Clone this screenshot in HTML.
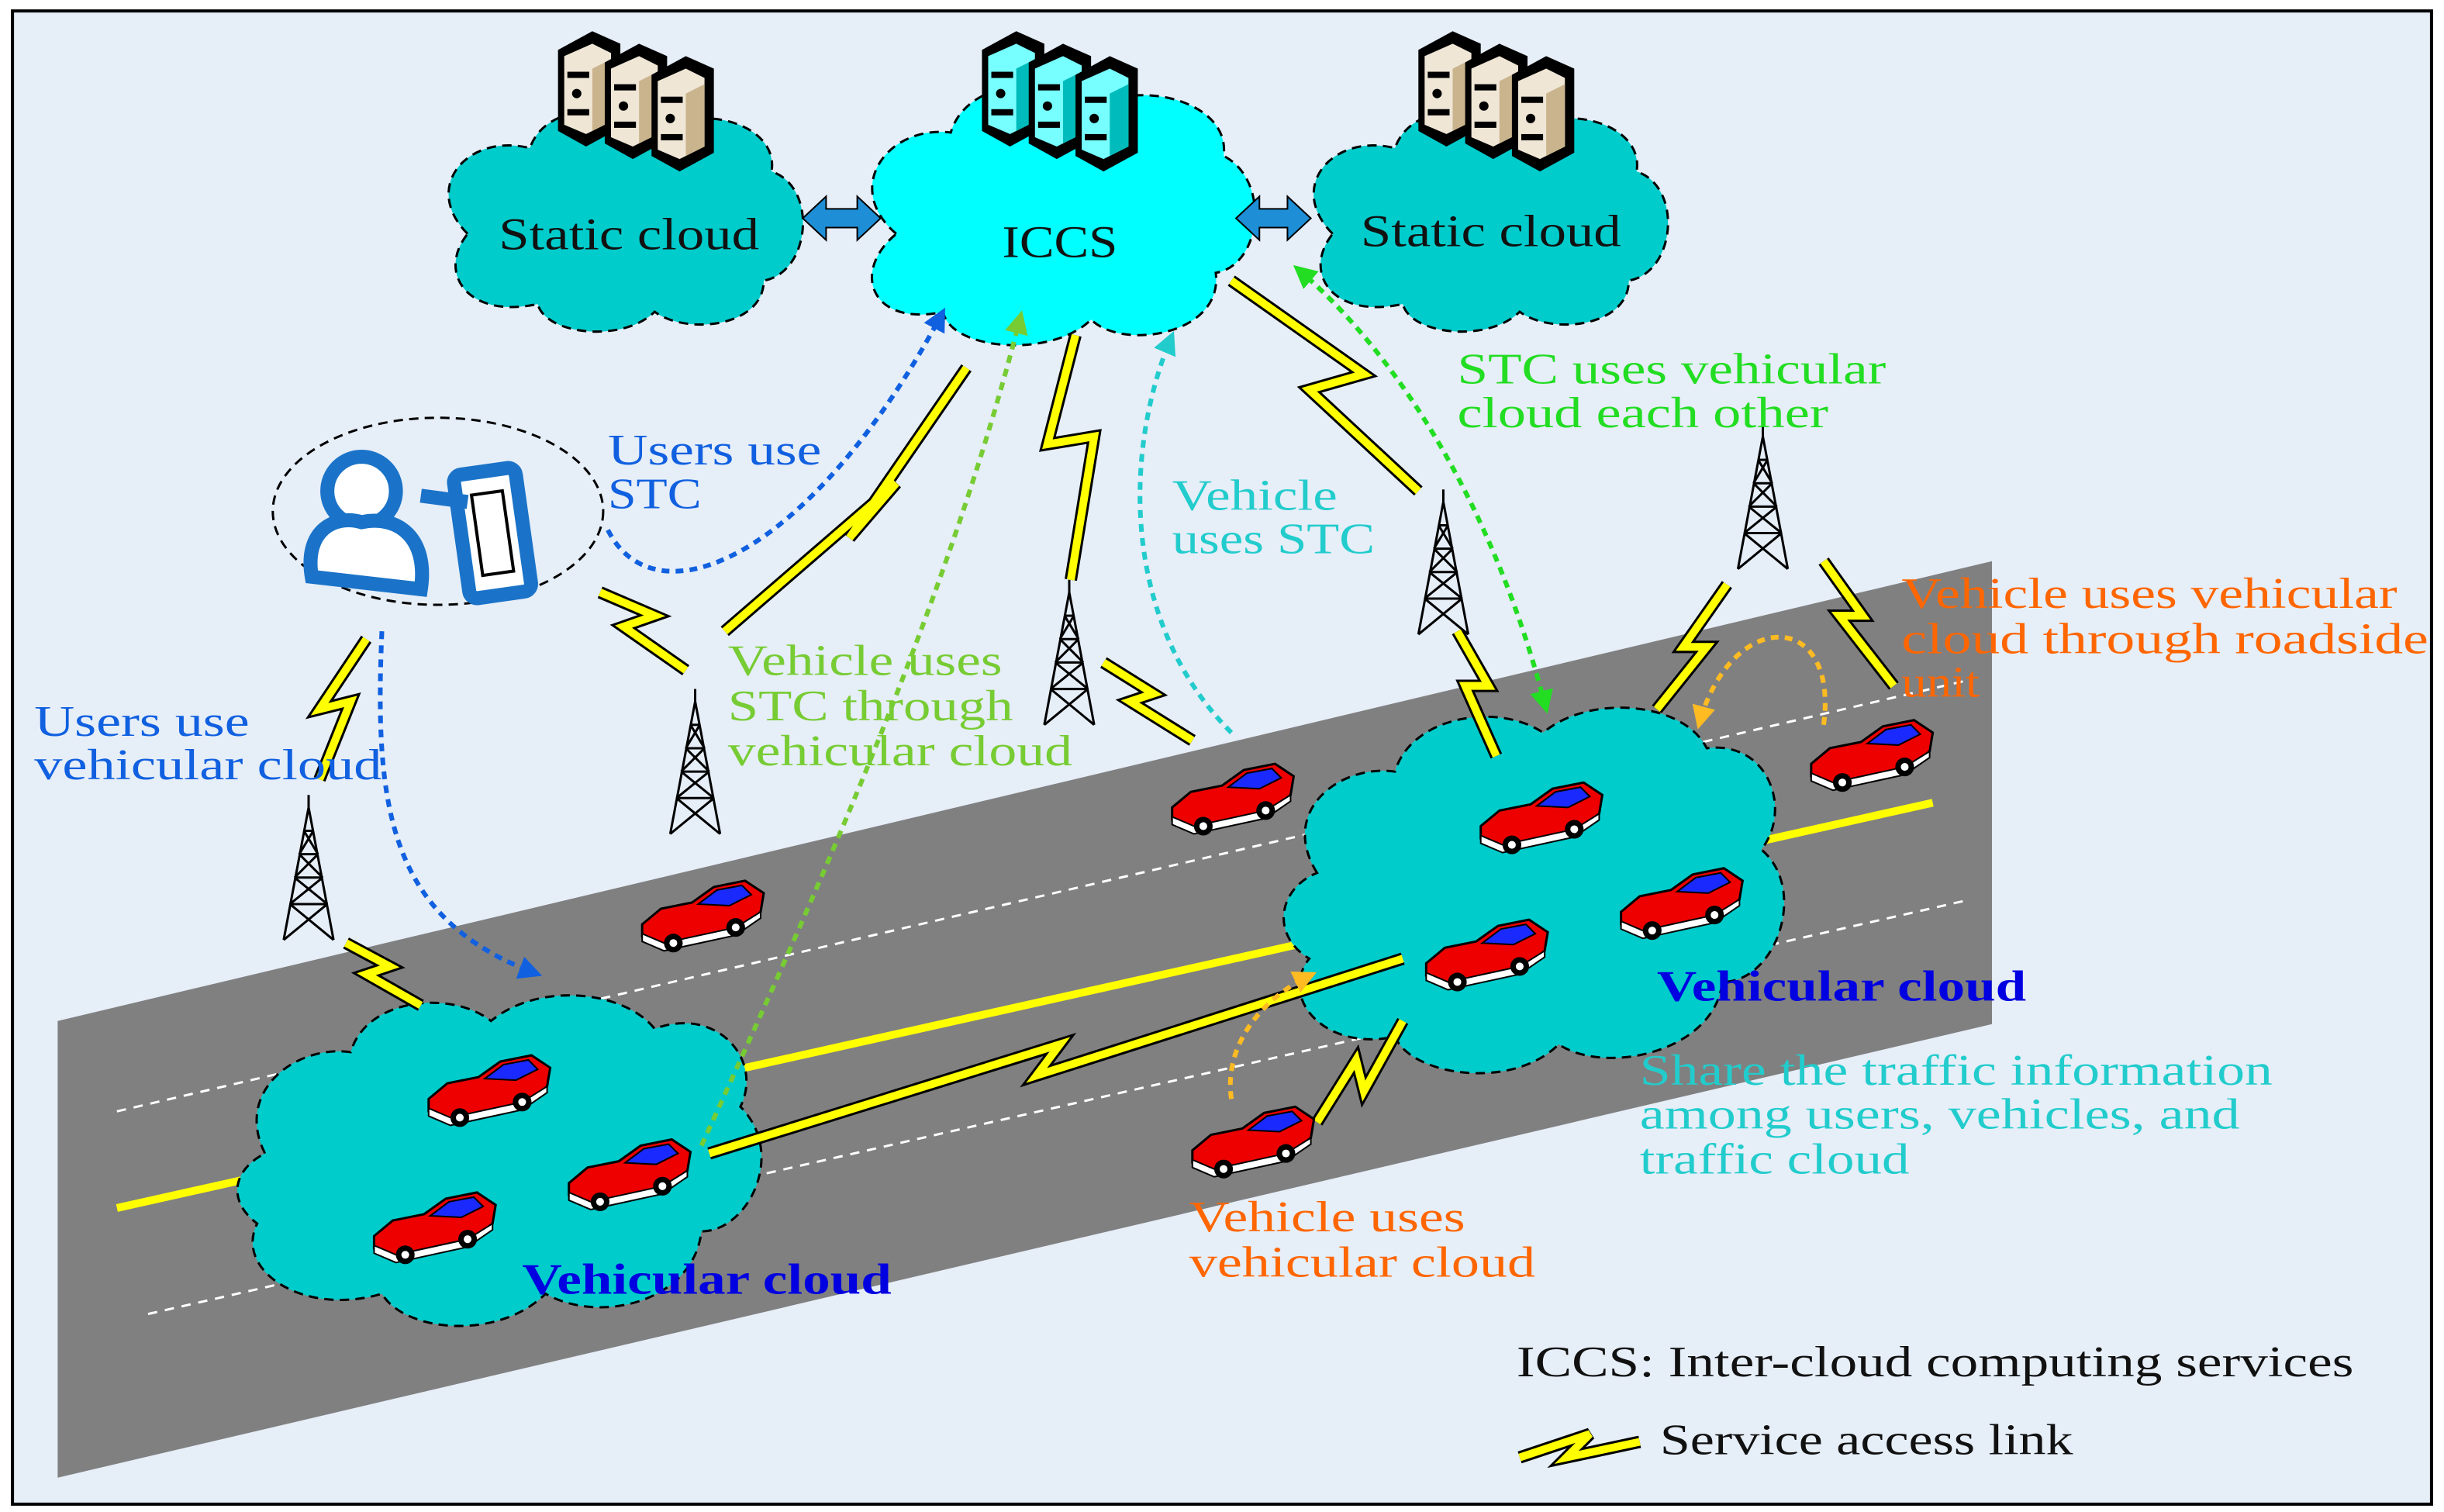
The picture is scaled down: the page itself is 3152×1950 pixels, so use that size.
<!DOCTYPE html>
<html><head><meta charset="utf-8"><style>
html,body{margin:0;padding:0;background:#fff;}
svg{display:block;}
text{font-family:"Liberation Serif",serif;}
</style></head><body>
<svg width="3152" height="1950" viewBox="0 0 1568 970" xmlns="http://www.w3.org/2000/svg">
<defs>
<g id="car">
 <polygon points="0,28 12,18 32,14 46,4 66,0 78,8 76,20 60,32 14,42 0,36" fill="#e00" stroke="#000" stroke-width="1.5"/>
 <polygon points="36,15 48,6 64,3 70,9 56,16" fill="#1a2aff" stroke="#000" stroke-width="1"/>
 <polygon points="0,34 14,40 60,30 76,20 76,24 60,35 14,45 0,39" fill="#fff" stroke="#000" stroke-width="1"/>
 <circle cx="20" cy="40" r="6" fill="#000"/><circle cx="20" cy="40" r="2.5" fill="#fff"/>
 <circle cx="60" cy="30" r="6" fill="#000"/><circle cx="60" cy="30" r="2.5" fill="#fff"/>
</g>
<g id="tower" stroke="#000" stroke-width="1.5" fill="none">
 <line x1="0" y1="0" x2="0" y2="-8"/>
 <line x1="0" y1="0" x2="-16" y2="85"/><line x1="0" y1="0" x2="16" y2="85"/>
 <line x1="-3" y1="15" x2="3" y2="15"/><line x1="-6" y1="30" x2="6" y2="30"/><line x1="-9" y1="45" x2="9" y2="45"/><line x1="-12" y1="62" x2="12" y2="62"/>
 <line x1="-3" y1="15" x2="6" y2="30"/><line x1="3" y1="15" x2="-6" y2="30"/><line x1="-6" y1="30" x2="9" y2="45"/><line x1="6" y1="30" x2="-9" y2="45"/><line x1="-9" y1="45" x2="12" y2="62"/><line x1="9" y1="45" x2="-12" y2="62"/><line x1="-12" y1="62" x2="16" y2="85"/><line x1="12" y1="62" x2="-16" y2="85"/>
</g>
<g id="server">
 <polygon points="0,12 22,0 40,8 40,62 18,74 0,64" fill="#000"/>
 <polygon points="4,16 22,8 34,14 34,58 18,66 4,60" fill="#efe6d6"/>
 <polygon points="22,24 34,18 34,58 22,64" fill="#c9b48d"/>
 <rect x="6" y="26" width="14" height="4" fill="#000"/><rect x="6" y="50" width="14" height="4" fill="#000"/><circle cx="12" cy="40" r="3" fill="#000"/>
</g>
<g id="serverc">
 <polygon points="0,12 22,0 40,8 40,62 18,74 0,64" fill="#000"/>
 <polygon points="4,16 22,8 34,14 34,58 18,66 4,60" fill="#7ff"/>
 <polygon points="22,24 34,18 34,58 22,64" fill="#0bb"/>
 <rect x="6" y="26" width="14" height="4" fill="#000"/><rect x="6" y="50" width="14" height="4" fill="#000"/><circle cx="12" cy="40" r="3" fill="#000"/>
</g>
<marker id="ab" viewBox="0 0 10 10" refX="8" refY="5" markerWidth="5" markerHeight="5" orient="auto-start-reverse"><path d="M0,0L10,5L0,10z" fill="#1060e0"/></marker>
<marker id="ag" viewBox="0 0 10 10" refX="8" refY="5" markerWidth="5" markerHeight="5" orient="auto-start-reverse"><path d="M0,0L10,5L0,10z" fill="#7c3"/></marker>
<marker id="ac" viewBox="0 0 10 10" refX="8" refY="5" markerWidth="5" markerHeight="5" orient="auto-start-reverse"><path d="M0,0L10,5L0,10z" fill="#2cc"/></marker>
<marker id="agr" viewBox="0 0 10 10" refX="8" refY="5" markerWidth="5" markerHeight="5" orient="auto-start-reverse"><path d="M0,0L10,5L0,10z" fill="#2d2"/></marker>
<marker id="ao" viewBox="0 0 10 10" refX="8" refY="5" markerWidth="5" markerHeight="5" orient="auto-start-reverse"><path d="M0,0L10,5L0,10z" fill="#fb2"/></marker>
</defs>
<rect x="0" y="0" width="1568" height="970" fill="#fff"/>
<rect x="8" y="7" width="1552" height="958" fill="#e6eef8" stroke="#000" stroke-width="2"/>

<polygon points="37,655 1278,360 1278,657 37,948" fill="#808080"/>
<line x1="75" y1="713" x2="1260" y2="437" stroke="#fff" stroke-width="1.5" stroke-dasharray="6,5"/>
<line x1="95" y1="843" x2="1260" y2="578" stroke="#fff" stroke-width="1.5" stroke-dasharray="6,5"/>
<line x1="75" y1="775" x2="1240" y2="515" stroke="#ff0" stroke-width="5"/>

<g fill="#00cccc" stroke="#000" stroke-width="1.5" stroke-dasharray="6,4">
 <path d="M300,150 C270,120 300,85 340,95 C350,65 400,65 420,85 C450,65 500,80 495,110 C525,120 520,175 490,180 C490,210 440,215 420,200 C400,220 350,215 345,195 C300,205 280,175 300,150Z"/>
 <path d="M855,150 C825,120 855,85 895,95 C905,65 955,65 975,85 C1005,65 1055,80 1050,110 C1080,120 1075,175 1045,180 C1045,210 995,215 975,200 C955,220 905,215 900,195 C855,205 835,175 855,150Z"/>
 <path d="M170,740 C150,700 190,670 225,675 C235,640 290,635 315,655 C345,630 400,635 420,660 C460,645 490,680 475,710 C505,740 480,790 450,790 C445,835 385,850 350,830 C320,860 260,855 245,830 C195,845 150,815 165,785 C145,770 150,750 170,740Z"/>
 <path d="M845,560 C820,520 860,490 895,495 C905,460 960,450 990,470 C1020,445 1080,450 1095,480 C1135,475 1150,520 1130,545 C1160,570 1140,630 1105,630 C1100,675 1030,690 1000,670 C970,700 905,690 895,665 C850,675 820,640 840,615 C815,600 820,570 845,560Z"/>
</g>
<path d="M575,150 C540,120 570,80 610,85 C620,50 680,45 700,70 C730,50 790,65 785,100 C815,115 810,170 780,175 C785,215 720,225 700,205 C675,230 610,225 605,200 C560,210 545,175 575,150Z" fill="#00ffff" stroke="#000" stroke-width="1.5" stroke-dasharray="6,4"/>

<use href="#server" x="358" y="20"/><use href="#server" x="388" y="28"/><use href="#server" x="418" y="36"/>
<use href="#serverc" x="630" y="20"/><use href="#serverc" x="660" y="28"/><use href="#serverc" x="690" y="36"/>
<use href="#server" x="910" y="20"/><use href="#server" x="940" y="28"/><use href="#server" x="970" y="36"/>

<g fill="#1e8fd6" stroke="#000" stroke-width="1">
 <polygon points="515,140 530,126 530,134 550,134 550,126 565,140 550,154 550,146 530,146 530,154"/>
 <polygon points="793,140 808,126 808,134 826,134 826,126 841,140 826,154 826,146 808,146 808,154"/>
</g>

<text x="320" y="160" font-size="29" fill="#111" textLength="167" lengthAdjust="spacingAndGlyphs">Static cloud</text>
<text x="643" y="165" font-size="29" fill="#111" textLength="74" lengthAdjust="spacingAndGlyphs">ICCS</text>
<text x="873" y="158" font-size="29" fill="#111" textLength="167" lengthAdjust="spacingAndGlyphs">Static cloud</text>

<ellipse cx="281" cy="328" rx="106" ry="60" fill="none" stroke="#000" stroke-width="1.5" stroke-dasharray="6,4"/>
<g stroke="#1a73c8" stroke-width="9" fill="#fff">
 <circle cx="232" cy="315" r="22"/>
 <path d="M200,370 C195,340 215,330 232,335 C255,330 275,345 270,378 Z"/>
 <rect x="296" y="302" width="40" height="80" rx="5" transform="rotate(-8 316 342)"/>
 <line x1="270" y1="318" x2="300" y2="322"/>
</g>
<rect x="306" y="316" width="20" height="52" fill="#fff" stroke="#000" stroke-width="2" transform="rotate(-8 316 342)"/>

<use href="#tower" x="198" y="518"/><use href="#tower" x="446" y="450"/><use href="#tower" x="686" y="380"/><use href="#tower" x="926" y="322"/><use href="#tower" x="1131" y="280"/>

<g fill="none" stroke-linejoin="miter" stroke-linecap="butt">
 <g stroke="#000" stroke-width="8">
  <polyline points="620,236 545,345 575,310 465,405"/>
  <polyline points="690,215 672,285 702,280 687,372"/>
  <polyline points="790,180 875,240 840,250 910,315"/>
  <polyline points="385,380 420,395 400,402 440,430"/>
  <polyline points="235,410 205,455 225,450 205,500"/>
  <polyline points="222,605 250,620 235,625 270,645"/>
  <polyline points="708,425 740,445 725,450 765,475"/>
  <polyline points="935,405 955,440 940,440 960,485"/>
  <polyline points="1108,375 1080,415 1095,415 1063,455"/>
  <polyline points="1170,360 1195,395 1180,395 1215,440"/>
  <polyline points="455,740 680,670 665,690 900,615"/>
  <polyline points="845,720 870,680 875,700 900,655"/>
  <polyline points="975,935 1020,920 1005,935 1052,925"/>
 </g>
 <g stroke="#ff0" stroke-width="5">
  <polyline points="620,236 545,345 575,310 465,405"/>
  <polyline points="690,215 672,285 702,280 687,372"/>
  <polyline points="790,180 875,240 840,250 910,315"/>
  <polyline points="385,380 420,395 400,402 440,430"/>
  <polyline points="235,410 205,455 225,450 205,500"/>
  <polyline points="222,605 250,620 235,625 270,645"/>
  <polyline points="708,425 740,445 725,450 765,475"/>
  <polyline points="935,405 955,440 940,440 960,485"/>
  <polyline points="1108,375 1080,415 1095,415 1063,455"/>
  <polyline points="1170,360 1195,395 1180,395 1215,440"/>
  <polyline points="455,740 680,670 665,690 900,615"/>
  <polyline points="845,720 870,680 875,700 900,655"/>
  <polyline points="975,935 1020,920 1005,935 1052,925"/>
 </g>
</g>

<g fill="none" stroke-width="3" stroke-dasharray="5,4">
 <path d="M390,340 C420,400 520,360 605,200" stroke="#1060e0" marker-end="url(#ab)"/>
 <path d="M245,405 C240,520 250,590 345,625" stroke="#1060e0" marker-end="url(#ab)"/>
 <path d="M450,735 C530,560 610,380 655,202" stroke="#7c3" marker-end="url(#ag)"/>
 <path d="M790,470 C720,400 720,290 752,215" stroke="#2cc" marker-end="url(#ac)"/>
 <path d="M832,172 C900,230 960,330 992,455" stroke="#2d2" marker-start="url(#agr)" marker-end="url(#agr)"/>
 <path d="M1170,465 C1180,390 1110,390 1090,465" stroke="#fb2" marker-end="url(#ao)"/>
 <path d="M790,705 C785,670 810,640 842,625" stroke="#fb2" marker-end="url(#ao)"/>
</g>

<use href="#car" x="412" y="565"/><use href="#car" x="752" y="490"/><use href="#car" x="950" y="502"/><use href="#car" x="1040" y="557"/>
<use href="#car" x="915" y="590"/><use href="#car" x="1162" y="462"/><use href="#car" x="275" y="677"/><use href="#car" x="365" y="731"/>
<use href="#car" x="240" y="765"/><use href="#car" x="765" y="710"/>

<g font-size="28">
 <text x="390" y="298" fill="#1060e0" textLength="137" lengthAdjust="spacingAndGlyphs">Users use</text><text x="390" y="326" fill="#1060e0" textLength="60" lengthAdjust="spacingAndGlyphs">STC</text>
 <text x="22" y="472" fill="#1060e0" textLength="138" lengthAdjust="spacingAndGlyphs">Users use</text><text x="22" y="500" fill="#1060e0" textLength="223" lengthAdjust="spacingAndGlyphs">vehicular cloud</text>
 <text x="467" y="433" fill="#7c3" textLength="176" lengthAdjust="spacingAndGlyphs">Vehicle uses</text><text x="467" y="462" fill="#7c3" textLength="183" lengthAdjust="spacingAndGlyphs">STC through</text><text x="467" y="491" fill="#7c3" textLength="221" lengthAdjust="spacingAndGlyphs">vehicular cloud</text>
 <text x="752" y="327" fill="#2cc" textLength="106" lengthAdjust="spacingAndGlyphs">Vehicle</text><text x="752" y="355" fill="#2cc" textLength="130" lengthAdjust="spacingAndGlyphs">uses STC</text>
 <text x="935" y="246" fill="#2d2" textLength="275" lengthAdjust="spacingAndGlyphs">STC uses vehicular</text><text x="935" y="274" fill="#2d2" textLength="238" lengthAdjust="spacingAndGlyphs">cloud each other</text>
 <text x="1220" y="390" fill="#f60" textLength="318" lengthAdjust="spacingAndGlyphs">Vehicle uses vehicular</text><text x="1220" y="419" fill="#f60" textLength="338" lengthAdjust="spacingAndGlyphs">cloud through roadside</text><text x="1220" y="447" fill="#f60" textLength="50" lengthAdjust="spacingAndGlyphs">unit</text>
 <text x="1052" y="696" fill="#2cc" textLength="406" lengthAdjust="spacingAndGlyphs">Share the traffic information</text><text x="1052" y="724" fill="#2cc" textLength="385" lengthAdjust="spacingAndGlyphs">among users, vehicles, and</text><text x="1052" y="753" fill="#2cc" textLength="173" lengthAdjust="spacingAndGlyphs">traffic cloud</text>
 <text x="763" y="790" fill="#f60" textLength="177" lengthAdjust="spacingAndGlyphs">Vehicle uses</text><text x="763" y="819" fill="#f60" textLength="222" lengthAdjust="spacingAndGlyphs">vehicular cloud</text>
 <text x="973" y="883" fill="#111" textLength="537" lengthAdjust="spacingAndGlyphs">ICCS: Inter-cloud computing services</text>
 <text x="1065" y="933" fill="#111" textLength="265" lengthAdjust="spacingAndGlyphs">Service access link</text>
 <text x="1063" y="642" fill="#0000e0" font-weight="bold" textLength="237" lengthAdjust="spacingAndGlyphs">Vehicular cloud</text>
 <text x="335" y="830" fill="#0000e0" font-weight="bold" textLength="237" lengthAdjust="spacingAndGlyphs">Vehicular cloud</text>
</g>
</svg>
</body></html>
